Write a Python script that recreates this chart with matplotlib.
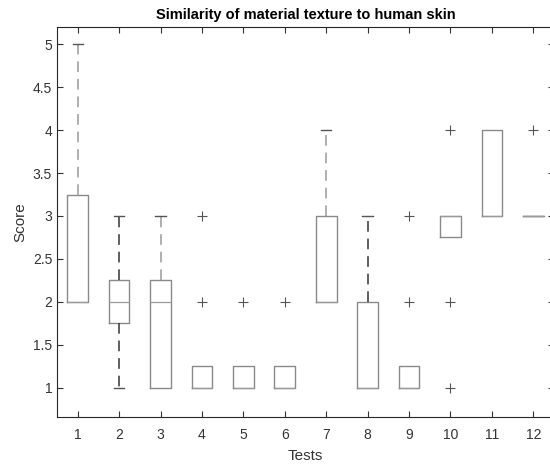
import matplotlib
matplotlib.use("Agg")
import matplotlib.pyplot as plt

plt.rcParams['font.family'] = ['Liberation Sans', 'DejaVu Sans']

# box statistics, one entry per test
tests = [1, 2, 3, 4, 5, 6, 7, 8, 9, 10, 11, 12]
q1 = [2, 1.75, 1, 1, 1, 1, 2, 1, 1, 2.75, 3, 3]
med = [2, 2, 2, 1, 1, 1, 2, 1, 1, 3, 3, 3]
q3 = [3.25, 2.25, 2.25, 1.25, 1.25, 1.25, 3, 2, 1.25, 3, 4, 3]
whislo = [2, 1, 1, 1, 1, 1, 2, 1, 1, 2.75, 3, 3]
whishi = [5, 3, 3, 1.25, 1.25, 1.25, 4, 3, 1.25, 3, 4, 3]
fliers = [[], [], [], [2, 3], [2], [2], [], [], [2, 3], [1, 2, 4], [], [4]]

stats = []
for i in range(len(tests)):
    stats.append(dict(q1=q1[i], med=med[i], q3=q3[i], whislo=whislo[i],
                      whishi=whishi[i], fliers=fliers[i], label=str(tests[i])))

fig = plt.figure(figsize=(5.5, 4.66), dpi=100)
# axes box runs slightly past the right edge of the picture, like the reference
ax = fig.add_axes([57 / 550, 1 - 417 / 466, (554 - 57) / 550, (417 - 27) / 466])

gray = '#8a8a8a'
res = ax.bxp(stats, positions=tests, widths=0.5, showcaps=True,
             boxprops=dict(color=gray, linewidth=1),
             whiskerprops=dict(color='#9a9a9a', linewidth=1.1, linestyle=(0, (7, 4.5))),
             capprops=dict(color='#555555', linewidth=1),
             medianprops=dict(color='#9a9a9a', linewidth=0.9),
             flierprops=dict(marker='+', markeredgecolor='#555555', markersize=7,
                             markeredgewidth=0.8, linestyle='none'),
             capwidths=0.25)

# two of the whisker pairs are drawn darker in the original
for i in (1, 7):
    for w in res['whiskers'][2 * i:2 * i + 2]:
        w.set_color('#333333')

# hide caps/whiskers of zero length
for i in range(len(tests)):
    if whislo[i] == q1[i]:
        res['caps'][2 * i].set_visible(False)
        res['whiskers'][2 * i].set_visible(False)
    if whishi[i] == q3[i]:
        res['caps'][2 * i + 1].set_visible(False)
        res['whiskers'][2 * i + 1].set_visible(False)

ax.set_xlim(0.5, 12.5)
ax.set_ylim(0.66, 5.2)
ax.set_yticks([1, 1.5, 2, 2.5, 3, 3.5, 4, 4.5, 5])
ax.set_yticklabels(['1', '1.5', '2', '2.5', '3', '3.5', '4', '4.5', '5'])
ax.set_xticks(tests)
ax.set_xticklabels([str(t) for t in tests])

ax.tick_params(direction='in', top=True, right=True, length=4, width=0.8,
               colors='#333333', labelsize=10, labelcolor='#333333')
ax.tick_params(axis='x', pad=8)
for s in ax.spines.values():
    s.set_color('#262626')
    s.set_linewidth(0.8)

ax.set_title('Similarity of material texture to human skin', fontsize=10.5,
             fontweight='bold', pad=6)
ax.set_xlabel('Tests', fontsize=11, color='#333333', labelpad=5)
ax.set_ylabel('Score', fontsize=11, color='#333333')

fig.savefig('out.png', dpi=100)
